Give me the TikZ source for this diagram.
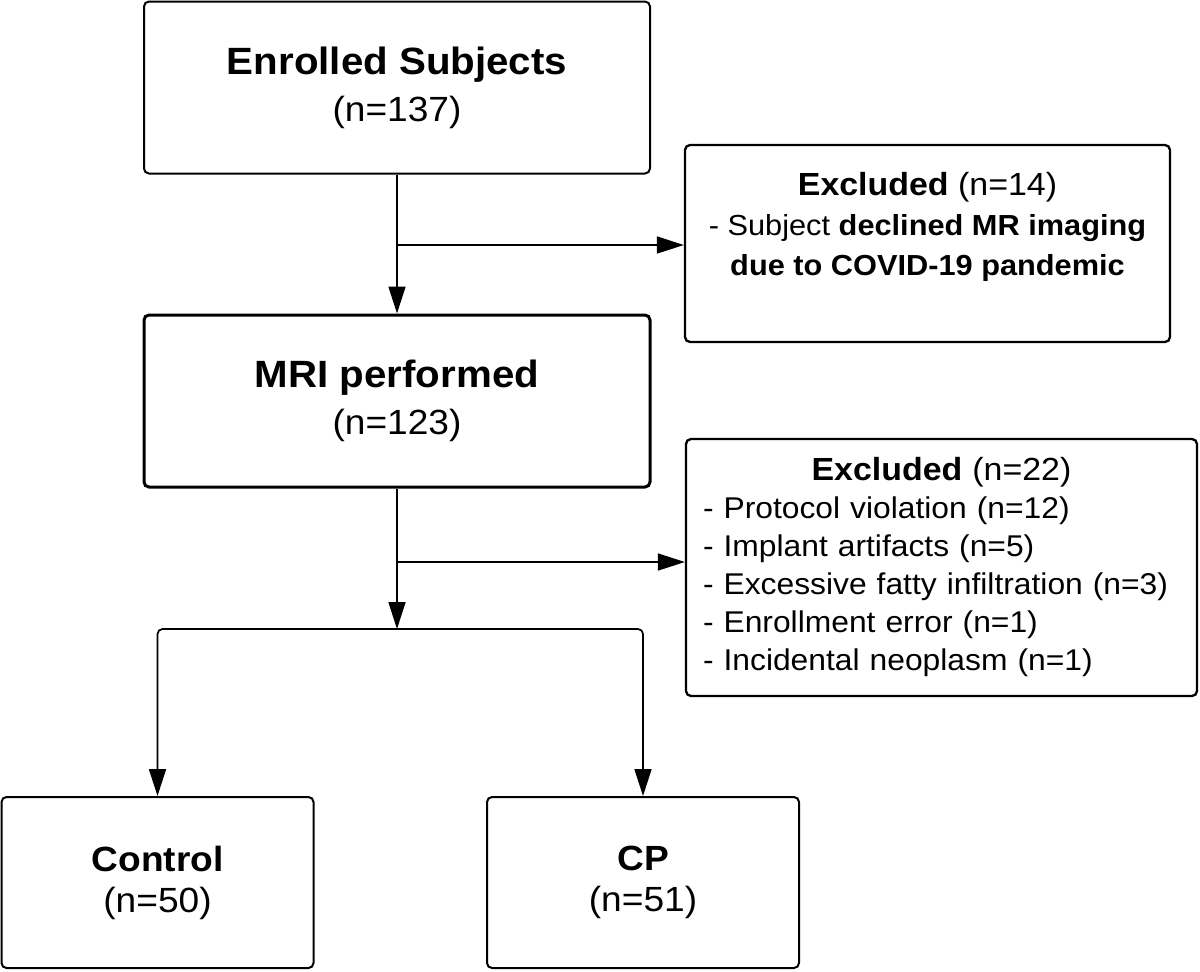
\documentclass[tikz,border=0pt]{standalone}
\usepackage{fontspec}
\setmainfont{Liberation Sans}[FakeStretch=1.06]
\usetikzlibrary{arrows.meta}

\begin{document}
\begin{tikzpicture} [x = 0.5pt, y = -0.5pt,
		box/.style = {draw,
			rounded corners = 2.5pt,
			line width = 1pt,
			inner sep = 0pt,
			align = center},
		mainbox/.style = {box,
			minimum width = 253pt,
			minimum height = 86pt,
			font = \fontsize{19}{23.5}\selectfont},
		groupbox/.style = {box,
			minimum width = 156pt,
			minimum height = 85.5pt,
			font = \fontsize{17.5}{20.5}\selectfont},
		exclbox/.style = {box,
			line width = 1.15pt},
		flow/.style = {line width = 0.85pt,
			-{Triangle[length = 13.5pt, width = 8.5pt]}}]

	\useasboundingbox (0,0) rectangle (1200,971);

	\node (enrolled) at (397,87.5) [mainbox] {\textbf{Enrolled Subjects}\\{\fontsize{17.5}{23.5}\selectfont (n=137)}};
	\node (mri) at (397,401) [mainbox, line width = 1.5pt] {\textbf{MRI performed}\\{\fontsize{17.5}{23.5}\selectfont (n=123)}};

	\node (excl1) at (927.5,243.5) [exclbox, minimum width = 242.5pt, minimum height = 98.5pt,
		font = \fontsize{14.5}{20}\selectfont]
		{{\fontsize{16}{20}\selectfont\textbf{Excluded} (n=14)}\\- Subject \textbf{declined MR imaging}\\\textbf{due to COVID-19 pandemic}\\~};

	\node (excl2) at (941.5,567.5) [exclbox, minimum width = 255.5pt, minimum height = 128.5pt,
		text width = 238.5pt, align = left, font = \fontsize{15}{19}\selectfont]
		{\makebox[238.5pt]{\fontsize{16}{19}\selectfont\textbf{Excluded} (n=22)}\\
		- Protocol violation (n=12)\\
		- Implant artifacts (n=5)\\
		- Excessive fatty infiltration (n=3)\\
		- Enrollment error (n=1)\\
		- Incidental neoplasm (n=1)};

	\node (control) at (157.5,882.5) [groupbox] {\textbf{Control}\\(n=50)};
	\node (cp) at (643,882.5) [groupbox] {\textbf{CP}\\(n=51)};

	\coordinate (branch1) at (397,245);
	\coordinate (branch2) at (397,562);
	\coordinate (split) at (397,629);

	\draw [flow] (enrolled) -- (mri);
	\draw [flow] (branch1) -- (branch1 -| excl1.west);
	\draw [flow] (mri) -- (split);
	\draw [flow] (branch2) -- (branch2 -| excl2.west);
	\draw [flow, rounded corners = 2.5pt] (split) -| (control);
	\draw [flow, rounded corners = 2.5pt] (split) -| (cp);

\end{tikzpicture}
\end{document}
